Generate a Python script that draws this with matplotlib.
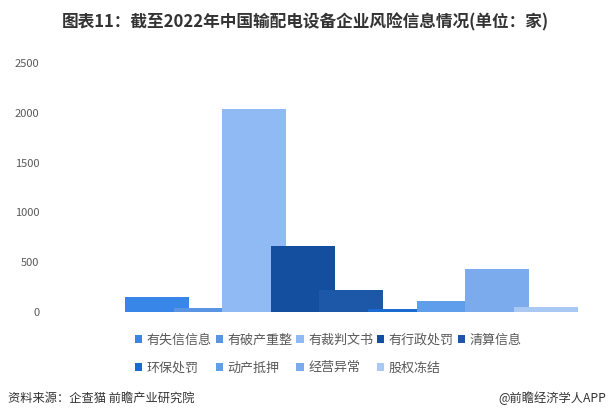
import matplotlib.pyplot as plt
from matplotlib.patches import Patch

plt.rcParams['font.family'] = ['Noto Sans CJK SC', 'DejaVu Sans']

# data (单位：家)
categories = ["有失信信息", "有破产重整", "有裁判文书", "有行政处罚", "清算信息",
              "环保处罚", "动产抵押", "经营异常", "股权冻结"]
values = [150, 40, 2035, 665, 222, 30, 110, 432, 50]
colors = ["#3786E8", "#5A95E3", "#90BAF3", "#134F9E", "#1C57A8",
          "#1A6AD0", "#5E9EEA", "#7BAAED", "#A9C8F2"]
y_ticks = [0, 500, 1000, 1500, 2000, 2500]

W, H = 611, 419
fig = plt.figure(figsize=(W / 100, H / 100), dpi=100)

# axes box in pixels: left 45, right 600, bottom y=312, top y=63
ax = fig.add_axes([45 / W, (H - 312) / H, 555 / W, 249 / H])

# bars overlap: centre spacing ~48.6 px, bar width ~64 px
step = 48.6
for i, (v, c) in enumerate(zip(values, colors)):
    ax.bar(i, v, width=64 / step, color=c, linewidth=0, zorder=2)

ax.set_xlim((45 - 157) / step, (600 - 157) / step)
ax.set_ylim(0, 2500)
ax.set_yticks(y_ticks)
ax.set_yticklabels([str(t) for t in y_ticks], fontsize=8, color="#595959")
ax.set_xticks([])
ax.tick_params(axis="y", length=0, pad=4)
for s in ax.spines.values():
    s.set_visible(False)

# legend fills column by column, so reorder to read row by row (5 + 4)
order = [0, 5, 1, 6, 2, 7, 3, 8, 4]
handles = [Patch(facecolor=colors[k], edgecolor="none") for k in order]
labels = [categories[k] for k in order]
fig.legend(handles, labels, loc="upper left",
           bbox_to_anchor=(135 / W, 1 - 334 / H), ncol=5, frameon=False,
           fontsize=9.4, labelcolor="#595959", handlelength=0.55,
           handleheight=0.55, handletextpad=0.35, columnspacing=0.3,
           labelspacing=1.1, borderpad=0, borderaxespad=0)

fig.text(0.5, 1 - 22 / H, "图表11：截至2022年中国输配电设备企业风险信息情况(单位：家)",
         ha="center", va="center", fontsize=12, fontweight="bold", color="#333333")
fig.text(8 / W, 1 - 398 / H, "资料来源：企查猫 前瞻产业研究院",
         ha="left", va="center", fontsize=8.8, color="#333333")
fig.text(606 / W, 1 - 398 / H, "@前瞻经济学人APP",
         ha="right", va="center", fontsize=8.8, color="#333333")

fig.savefig("out.png", dpi=100)
